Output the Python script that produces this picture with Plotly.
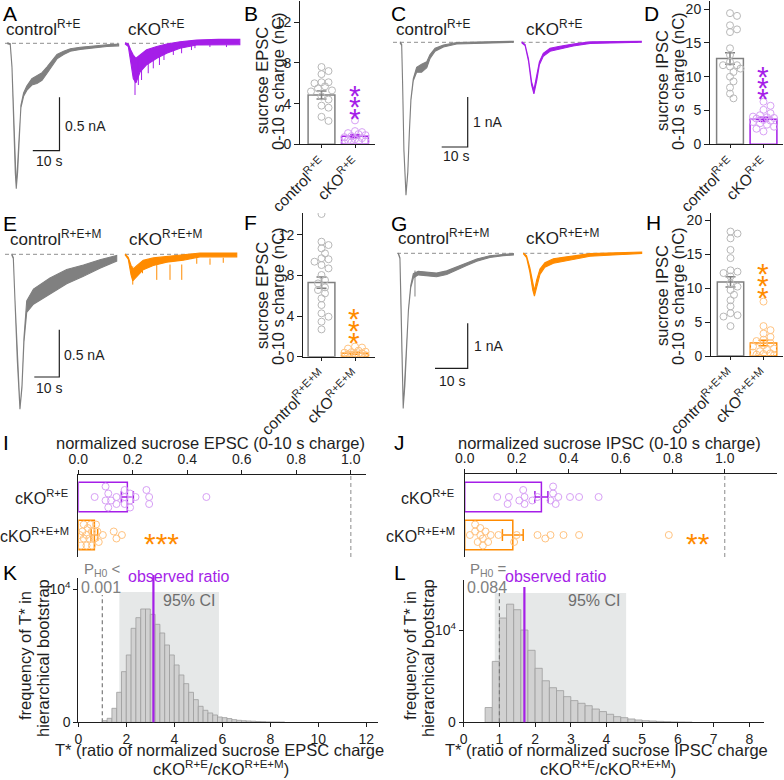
import plotly.graph_objects as go

W, H = 784, 780
FONT = "Liberation Sans, Arial, sans-serif"
INK = "#1e1e1e"
GREY = "#808080"
PURPLE = "#a51ee8"
ORANGE = "#ff8b00"
L_GREY = "#b8b8b8"
L_PURPLE = "#d7a0f5"
L_ORANGE = "#ffc380"
HIST_FILL = "#d1d1d1"
HIST_LINE = "#9d9d9d"
CI_FILL = "#e6e8e8"

# ---------------- example traces: time (s), current (nA), noise half-width (nA) ----------------
A_CTRL_T = [0, 1.1, 1.75, 2.37, 3.0, 3.37, 3.86, 4.5, 5.1, 6.1, 7.3, 9.2, 11.1, 13.0, 14.9, 16.8, 18.6, 21.1, 23.6, 27.3, 32.3, 37.3, 41.7]
A_CTRL_I = [0, -0.007, -0.22, -0.69, -1.21, -1.355, -1.21, -0.84, -0.59, -0.48, -0.42, -0.36, -0.34, -0.31, -0.25, -0.19, -0.125, -0.09, -0.063, -0.047, -0.032, -0.022, -0.016]
A_CTRL_N = [0.004, 0.004, 0.004, 0.004, 0.004, 0.004, 0.004, 0.005, 0.01, 0.015, 0.02, 0.03, 0.035, 0.035, 0.03, 0.025, 0.02, 0.015, 0.012, 0.01, 0.008, 0.008, 0.008]
A_CKO_T = [0, 1.25, 2.1, 3.1, 4.1, 5.6, 8.1, 11.9, 15.6, 20.6, 26.8, 35, 43]
A_CKO_I = [0, -0.019, -0.115, -0.22, -0.255, -0.19, -0.13, -0.085, -0.05, -0.016, 0.007, 0.012, 0.012]
A_CKO_N = [0.004, 0.012, 0.055, 0.11, 0.115, 0.08, 0.07, 0.055, 0.043, 0.031, 0.023, 0.025, 0.025]
A_CKO_SPIKE_T = [3.75, 5.0, 6.2, 8.7, 10.6, 12.9, 14.6, 18.1, 21.2, 24.9, 26.2, 31.8, 38]
A_CKO_SPIKE_I = [-0.483, -0.39, -0.343, -0.28, -0.234, -0.203, -0.156, -0.109, -0.093, -0.063, -0.045, -0.035, -0.035]

C_CTRL_T = [0, 0.65, 1.0, 1.5, 2.3, 3.0, 3.6, 4.2, 5.1, 6.4, 8.3, 10.3, 11.5, 13.5, 16.7, 21.8, 29.5, 43.6]
C_CTRL_I = [0, -0.054, -0.82, -2.15, -3.05, -2.6, -1.8, -1.15, -0.75, -0.55, -0.52, -0.45, -0.29, -0.15, -0.074, -0.02, -0.005, 0.01]
C_CTRL_N = [0.01, 0.01, 0.01, 0.01, 0.01, 0.01, 0.01, 0.01, 0.02, 0.05, 0.08, 0.06, 0.04, 0.03, 0.02, 0.015, 0.01, 0.01]
C_CKO_T = [0, 1.3, 2.6, 3.8, 4.7, 5.8, 6.8, 8.3, 10.9, 14.7, 19.8, 26.3, 46]
C_CKO_I = [0, -0.054, -0.35, -0.82, -0.99, -0.72, -0.42, -0.25, -0.15, -0.11, -0.054, -0.007, 0.012]
C_CKO_N = [0.01, 0.01, 0.02, 0.03, 0.04, 0.04, 0.03, 0.03, 0.03, 0.03, 0.02, 0.015, 0.01]

E_CTRL_T = [0, 0.65, 1.3, 2.25, 3.3, 4.1, 4.9, 6.0, 8.7, 15.3, 22, 28.7, 35.3, 42]
E_CTRL_I = [0, -0.04, -0.48, -1.12, -1.63, -1.40, -0.905, -0.553, -0.447, -0.335, -0.236, -0.173, -0.102, -0.042]
E_CTRL_N = [0.005, 0.005, 0.005, 0.005, 0.005, 0.01, 0.02, 0.06, 0.08, 0.085, 0.075, 0.06, 0.045, 0.03]
E_CKO_T = [0, 1.3, 2.4, 3.1, 4.7, 7.3, 11.3, 16.7, 23.3, 30, 44.7]
E_CKO_I = [0, -0.042, -0.165, -0.22, -0.18, -0.113, -0.078, -0.053, -0.032, -0.007, -0.007]
E_CKO_N = [0.005, 0.01, 0.05, 0.06, 0.06, 0.05, 0.04, 0.03, 0.03, 0.02, 0.02]
E_CKO_SPIKE_T = [3.1, 7.0, 12.7, 18.0, 22.7, 28.7, 34.0, 39.3]
E_CKO_SPIKE_I = [-0.32, -0.2, -0.27, -0.27, -0.27, -0.1, -0.11, -0.09]

G_CTRL_T = [0, 0.5, 0.8, 1.1, 1.5, 2.0, 2.6, 3.1, 3.8, 4.6, 6.1, 8.7, 11.7, 14.8, 17.9, 20.9, 24, 28, 32.1, 35.2]
G_CTRL_I = [0, -0.11, -1.04, -2.15, -3.44, -2.96, -1.93, -1.26, -0.74, -0.5, -0.44, -0.46, -0.48, -0.43, -0.33, -0.24, -0.15, -0.074, -0.037, -0.022]
G_CTRL_N = [0.01, 0.01, 0.01, 0.01, 0.01, 0.01, 0.01, 0.01, 0.02, 0.05, 0.04, 0.04, 0.04, 0.04, 0.035, 0.03, 0.025, 0.02, 0.015, 0.015]
G_CTRL_SPIKE_T = [5.1]
G_CTRL_SPIKE_I = [-0.96]
G_CKO_T = [0, 1.0, 2.0, 2.9, 3.4, 4.1, 5.1, 6.6, 9.2, 12.2, 16.3, 20.4, 36.2]
G_CKO_I = [0, -0.074, -0.37, -0.74, -0.89, -0.67, -0.41, -0.26, -0.17, -0.13, -0.089, -0.037, 0.013]
G_CKO_N = [0.01, 0.02, 0.05, 0.08, 0.06, 0.08, 0.06, 0.05, 0.05, 0.04, 0.035, 0.03, 0.015]

SCALE_T = 10          # s
SCALE_EPSC = 0.5      # nA (A, E)
SCALE_IPSC = 1.0      # nA (C, G)

# ---------------- summary bar graphs (nC) ----------------
CAT_RE = ["control<sup>R+E</sup>", "cKO<sup>R+E</sup>"]
CAT_REM = ["control<sup>R+E+M</sup>", "cKO<sup>R+E+M</sup>"]

B_MEAN = [4.85, 0.8]
B_SEM = [0.4, 0.15]
B_CTRL = [7.6, 7.2, 6.9, 6.1, 6.1, 6.0, 5.7, 5.5, 5.3, 5.2, 4.7, 4.4, 3.8, 3.6, 2.7, 2.3]
B_CKO = [2.35, 1.3, 1.2, 1.1, 1.0, 0.9, 0.8, 0.7, 0.6, 0.5, 0.4, 0.3, 0.25, 0.2, 0.1]

D_MEAN = [12.7, 3.7]
D_SEM = [0.85, 0.3]
D_CTRL = [19.4, 19.0, 17.6, 17.0, 16.6, 14.2, 13.2, 12.2, 11.7, 11.7, 11.5, 11.2, 10.7, 10.0, 9.3, 8.4, 7.5, 6.8]
D_CKO = [6.3, 5.7, 5.1, 4.6, 4.3, 4.1, 4.0, 3.9, 3.8, 3.6, 3.5, 3.3, 3.1, 2.9, 2.6, 2.3, 1.9]

F_MEAN = [7.3, 0.35]
F_SEM = [0.55, 0.1]
F_CTRL = [14.06, 11.33, 11.0, 10.67, 10.18, 9.7, 9.6, 9.36, 9.03, 8.7, 8.05, 7.55, 7.22, 6.83, 6.57, 6.24, 5.75, 5.09, 4.27, 3.94, 3.45, 2.69]
F_CKO = [1.0, 0.9, 0.8, 0.6, 0.5, 0.45, 0.4, 0.35, 0.3, 0.25, 0.2, 0.15, 0.1, 0.08, 0.05, 0.03]

H_MEAN = [10.9, 1.9]
H_SEM = [0.75, 0.4]
H_CTRL = [18.3, 18.0, 17.3, 15.6, 14.4, 12.6, 12.4, 12.2, 11.7, 10.7, 10.2, 9.7, 9.0, 8.2, 7.3, 6.3, 6.0, 5.8, 4.4]
H_CKO = [8.0, 4.4, 3.8, 3.3, 2.8, 2.4, 2.2, 1.9, 1.6, 1.4, 1.1, 0.9, 0.7, 0.5, 0.4, 0.3, 0.2, 0.1]

# ---------------- normalized charge (I, J) ----------------
NORM_CATS = ["cKO<sup>R+E</sup>", "cKO<sup>R+E+M</sup>"]
NORM_TICKS = [0.0, 0.2, 0.4, 0.6, 0.8, 1.0]
I_MEAN = [0.18, 0.059]
I_SEM = [0.022, 0.012]
I_RE = [0.06, 0.10, 0.10, 0.11, 0.11, 0.12, 0.14, 0.14, 0.17, 0.17, 0.17, 0.19, 0.19, 0.19, 0.21, 0.25, 0.26, 0.26, 0.47]
I_REM = [0.005, 0.01, 0.015, 0.02, 0.02, 0.03, 0.03, 0.035, 0.04, 0.045, 0.05, 0.05, 0.06, 0.065, 0.07, 0.075, 0.09, 0.13, 0.14, 0.16]
J_MEAN = [0.295, 0.185]
J_SEM = [0.025, 0.04]
J_RE = [0.125, 0.165, 0.17, 0.21, 0.225, 0.23, 0.23, 0.26, 0.28, 0.33, 0.34, 0.34, 0.35, 0.36, 0.405, 0.44, 0.515]
J_REM = [0.02, 0.04, 0.04, 0.05, 0.06, 0.06, 0.07, 0.07, 0.08, 0.09, 0.10, 0.13, 0.19, 0.20, 0.28, 0.31, 0.33, 0.38, 0.44, 0.785]

# ---------------- hierarchical bootstrap histograms (K, L) ----------------
BIN_W = 0.2
K_START = 1.0
K_COUNTS = [125, 300, 1050, 2250, 3800, 5050, 7050, 7850, 8500, 8500, 8100, 7350, 6700, 5800, 5050, 4300, 3550, 2900,
            2250, 1700, 1200, 900, 700, 550, 400, 350, 280, 200, 150, 120, 100, 80, 60, 50, 30, 20, 20, 10]
K_CI = [1.71, 5.86]
K_OBS = 3.13
K_P = "0.001"
L_START = 0.6
L_COUNTS = [1600, 6600, 11300, 12800, 12200, 10000, 7800, 5850, 4500, 3750, 3430, 2780, 2350, 2060, 1800, 1440, 1160,
            870, 610, 500, 360, 250, 180, 140, 100, 70, 40, 20, 10]
L_CI = [0.87, 4.55]
L_OBS = 1.70
L_P = "0.084"

# =====================================================================
fig = go.Figure()
axes = {}
ann = []
shapes = []


def names(n):
    s = "" if n == 1 else str(n)
    return "xaxis" + s, "yaxis" + s, "x" + s, "y" + s


def set_axes(n, box, xr, yr, xo=None, yo=None):
    l, t, r, b = box
    xa, ya, xref, yref = names(n)
    base = dict(showgrid=False, zeroline=False, fixedrange=True, automargin=False)
    axes[xa] = dict(domain=[l / W, r / W], range=xr, anchor=yref, **base, **(xo or {}))
    axes[ya] = dict(domain=[1 - b / H, 1 - t / H], range=yr, anchor=xref, **base, **(yo or {}))
    return xref, yref


def text(s, x, y, size=16.5, color=INK, xa="center", ya="middle", angle=0):
    ann.append(dict(text=s, x=x / W, y=1 - y / H, xref="paper", yref="paper", xanchor=xa, yanchor=ya,
                    showarrow=False, textangle=angle, font=dict(family=FONT, size=size, color=color)))


def star(x, y, color, size=30, s="*"):
    ann.append(dict(text=s, x=x / W, y=1 - y / H, xref="paper", yref="paper", xanchor="center",
                    yanchor="middle", showarrow=False, yshift=-0.27 * size,
                    font=dict(family=FONT, size=size, color=color)))


# ---------------- trace panels ----------------
def band(xref, yref, t, c, nz, color, shift=0.0):
    xs = [v + shift for v in t] + [v + shift for v in t[::-1]]
    ys = [a + b for a, b in zip(c, nz)] + [a - b for a, b in zip(c[::-1], nz[::-1])]
    fig.add_trace(go.Scatter(x=xs, y=ys, fill="toself", fillcolor=color, mode="lines",
                             line=dict(color=color, width=1.1), xaxis=xref, yaxis=yref, hoverinfo="skip"))


def spikes(xref, yref, t, d, color, shift=0.0):
    xs, ys = [], []
    for a, v in zip(t, d):
        xs += [a + shift, a + shift, None]
        ys += [v * 0.4, v, None]
    fig.add_trace(go.Scatter(x=xs, y=ys, mode="lines", line=dict(color=color, width=1),
                             xaxis=xref, yaxis=yref, hoverinfo="skip"))


def baseline(xref, yref, t0, t1):
    fig.add_trace(go.Scatter(x=[t0, t1], y=[0, 0], mode="lines",
                             line=dict(color="#8f8f8f", width=1, dash="4px,3px"),
                             xaxis=xref, yaxis=yref, hoverinfo="skip"))


def trace_panel(n, box, x0, y0, sx, sy, base_start_px, ctrl, cko, cko_start_px, cko_color,
                corner_px, dI, ctrl_spk=None, cko_spk=None):
    l, t, r, b = box
    xr = [(l - x0) / sx, (r - x0) / sx]
    yr = [-(b - y0) / sy, -(t - y0) / sy]
    xref, yref = set_axes(n, box, xr, yr, dict(visible=False), dict(visible=False))
    shift = (cko_start_px - x0) / sx
    baseline(xref, yref, (base_start_px - x0) / sx, ctrl[0][-1])
    baseline(xref, yref, shift, shift + cko[0][-1])
    band(xref, yref, ctrl[0], ctrl[1], ctrl[2], GREY)
    if ctrl_spk:
        spikes(xref, yref, ctrl_spk[0], ctrl_spk[1], GREY)
    band(xref, yref, cko[0], cko[1], cko[2], cko_color, shift)
    if cko_spk:
        spikes(xref, yref, cko_spk[0], cko_spk[1], cko_color, shift)
    cx, cy = (corner_px[0] - x0) / sx, -(corner_px[1] - y0) / sy
    fig.add_trace(go.Scatter(x=[cx - SCALE_T, cx, cx], y=[cy, cy, cy + dI], mode="lines",
                             line=dict(color=INK, width=1.2), xaxis=xref, yaxis=yref, hoverinfo="skip"))


trace_panel(1, (0, 20, 242, 200), 7.3, 43.3, 2.67, 107, 5,
            (A_CTRL_T, A_CTRL_I, A_CTRL_N), (A_CKO_T, A_CKO_I, A_CKO_N), 125, PURPLE,
            (59.5, 150.7), SCALE_EPSC, None, (A_CKO_SPIKE_T, A_CKO_SPIKE_I))
trace_panel(2, (390, 20, 645, 200), 400, 42.3, 2.6, 50, 393,
            (C_CTRL_T, C_CTRL_I, C_CTRL_N), (C_CKO_T, C_CKO_I, C_CKO_N), 521.7, PURPLE,
            (467.7, 147), SCALE_IPSC)
trace_panel(3, (0, 230, 242, 415), 11.7, 254.3, 2.5, 94.7, 5,
            (E_CTRL_T, E_CTRL_I, E_CTRL_N), (E_CKO_T, E_CKO_I, E_CKO_N), 125, ORANGE,
            (59.3, 377), SCALE_EPSC, None, (E_CKO_SPIKE_T, E_CKO_SPIKE_I))
trace_panel(4, (390, 230, 645, 415), 398.3, 253.3, 3.27, 45, 397,
            (G_CTRL_T, G_CTRL_I, G_CTRL_N), (G_CKO_T, G_CKO_I, G_CKO_N), 523.3, ORANGE,
            (467.7, 368.3), SCALE_IPSC, (G_CTRL_SPIKE_T, G_CTRL_SPIKE_I))

# trace labels and scale labels
text("control<sup>R+E</sup>", 4, 28, 17, xa="left")
text("cKO<sup>R+E</sup>", 126, 28, 17, xa="left")
text("control<sup>R+E</sup>", 394, 28, 17, xa="left")
text("cKO<sup>R+E</sup>", 524, 28, 17, xa="left")
text("control<sup>R+E+M</sup>", 8, 238, 17, xa="left")
text("cKO<sup>R+E+M</sup>", 127, 238, 17, xa="left")
text("control<sup>R+E+M</sup>", 396, 237, 17, xa="left")
text("cKO<sup>R+E+M</sup>", 524, 237, 17, xa="left")
text(f"{SCALE_EPSC} nA", 63, 126, 14, xa="left")
text(f"{SCALE_T} s", 49, 161, 14)
text(f"{SCALE_IPSC:g} nA", 471, 122, 14, xa="left")
text(f"{SCALE_T} s", 456, 156, 14)
text(f"{SCALE_EPSC} nA", 62, 355, 14, xa="left")
text(f"{SCALE_T} s", 49, 388, 14)
text(f"{SCALE_IPSC:g} nA", 472, 346, 14, xa="left")
text(f"{SCALE_T} s", 452, 381, 14)


# ---------------- bar panels ----------------
def swarm(values, ppu, d=7.0, max_off=12.0, min_sep=0.8):
    order = sorted(range(len(values)), key=lambda i: -values[i])
    offs = [0.0] * len(values)
    placed = []
    step = d * 0.5
    cands = [0.0]
    k = 1
    while k * step <= max_off + 1e-9:
        cands += [k * step, -k * step]
        k += 1
    for i in order:
        vp = values[i] * ppu
        best, best_sc = 0.0, -1.0
        for c in cands:
            md = min([((vp - p) ** 2 + (c - o) ** 2) ** 0.5 for p, o in placed] or [1e9])
            if md >= d * min_sep:
                best = c
                break
            if md > best_sc:
                best_sc, best = md, c
        placed.append((vp, best))
        offs[i] = best
    return offs


def bar_panel(n, xl, xrp, yt, yb, c0, csp, ypu, yticks, cats, means, sems, ctrl, cko, color, lcolor):
    xr = [(xl - c0) / csp, (xrp - c0) / csp]
    yr = [0, (yb - yt) / ypu]
    xo = dict(showline=True, linecolor=INK, linewidth=1, tickmode="array", tickvals=[0, 1], ticktext=cats,
              tickangle=-45, ticks="outside", ticklen=3, tickcolor=INK,
              tickfont=dict(family=FONT, size=15.5, color=INK))
    yo = dict(showline=True, linecolor=INK, linewidth=1, tickmode="array", tickvals=yticks,
              ticks="outside", ticklen=5, tickcolor=INK, tickfont=dict(family=FONT, size=14, color=INK))
    xref, yref = set_axes(n, (xl, yt, xrp, yb), xr, yr, xo, yo)
    for k, (col, vals, lc) in enumerate([(GREY, ctrl, L_GREY), (color, cko, lcolor)]):
        fig.add_trace(go.Bar(x=[k], y=[means[k]], width=0.8, marker=dict(color="rgba(255,255,255,0)",
                             line=dict(color=col, width=1.5)),
                             error_y=dict(type="data", array=[sems[k]], color=col, thickness=1.5, width=5),
                             xaxis=xref, yaxis=yref, hoverinfo="skip"))
        offs = swarm(vals, ypu)
        fig.add_trace(go.Scatter(x=[k + o / csp for o in offs], y=vals, mode="markers",
                                 marker=dict(symbol="circle-open", size=7, color=lc, line=dict(width=1)),
                                 xaxis=xref, yaxis=yref, hoverinfo="skip"))


bar_panel(5, 300, 375, 1, 144.3, 321.5, 33.5, 10.17, [0, 4, 8, 12], CAT_RE, B_MEAN, B_SEM, B_CTRL, B_CKO,
          PURPLE, L_PURPLE)
bar_panel(6, 710, 783, 1, 144.3, 730, 33.5, 6.76, [0, 5, 10, 15, 20], CAT_RE, D_MEAN, D_SEM, D_CTRL, D_CKO,
          PURPLE, L_PURPLE)
bar_panel(7, 303, 375, 213, 356.7, 321.5, 33.5, 10.15, [0, 4, 8, 12], CAT_REM, F_MEAN, F_SEM, F_CTRL, F_CKO,
          ORANGE, L_ORANGE)
bar_panel(8, 711, 783, 213, 356, 730.5, 33, 6.8, [0, 5, 10, 15, 20], CAT_REM, H_MEAN, H_SEM, H_CTRL, H_CKO,
          ORANGE, L_ORANGE)

for x, l1, l2, y in [(270, "sucrose EPSC", "0-10 s charge (nC)", 81),
                     (670, "sucrose IPSC", "0-10 s charge (nC)", 81),
                     (270, "sucrose EPSC", "0-10 s charge (nC)", 296),
                     (670, "sucrose IPSC", "0-10 s charge (nC)", 296)]:
    text(l1, x - 8, y, 16.5, angle=-90)
    text(l2, x + 8, y, 16.5, angle=-90)

for y in [87, 98, 110]:
    star(355, y, PURPLE)
for y in [68, 79, 90]:
    star(763, y, PURPLE)
for y in [310, 322, 334]:
    star(354, y, ORANGE)
for y in [265, 277, 289]:
    star(763, y, ORANGE)


# ---------------- normalized horizontal bar panels ----------------
def norm_panel(n, box, xmax, yr, means, sems, re_vals, rem_vals, ppu, title, title_x, lab_x):
    xo = dict(side="top", showline=True, linecolor=INK, linewidth=1, tickmode="array", tickvals=NORM_TICKS,
              ticktext=[f"{v:.1f}" for v in NORM_TICKS], ticks="outside", ticklen=4, tickcolor=INK,
              tickfont=dict(family=FONT, size=14, color=INK))
    yo = dict(showline=True, linecolor=INK, linewidth=1, showticklabels=False, ticks="")
    xref, yref = set_axes(n, box, [0, xmax], yr, xo, yo)
    shapes.append(dict(type="line", xref=xref, yref=yref + " domain", x0=1, x1=1, y0=0, y1=1,
                       line=dict(color="#a6a6a6", width=1.3, dash="4px,3px")))
    for k, (col, lc, vals) in enumerate([(PURPLE, L_PURPLE, re_vals), (ORANGE, L_ORANGE, rem_vals)]):
        fig.add_trace(go.Bar(x=[means[k]], y=[k], orientation="h", width=0.78,
                             marker=dict(color="rgba(255,255,255,0)", line=dict(color=col, width=1.5)),
                             error_x=dict(type="data", array=[sems[k]], color=col, thickness=1.5, width=6),
                             xaxis=xref, yaxis=yref, hoverinfo="skip"))
        offs = swarm(vals, ppu, max_off=12.0)
        fig.add_trace(go.Scatter(x=vals, y=[k + o / 38.0 for o in offs], mode="markers",
                                 marker=dict(symbol="circle-open", size=7, color=lc, line=dict(width=1)),
                                 xaxis=xref, yaxis=yref, hoverinfo="skip"))
    text(title, title_x, 443, 16.5)
    text(NORM_CATS[0], lab_x, 497, 16, xa="right")
    text(NORM_CATS[1], lab_x + 1, 535, 16, xa="right")


norm_panel(9, (78.3, 475, 366, 557), (366 - 78.3) / 272.5, [1.579, -0.579], I_MEAN, I_SEM, I_RE, I_REM, 272.5,
           "normalized sucrose EPSC (0-10 s charge)", 211, 70)
norm_panel(10, (464.7, 474, 777, 557), (777 - 464.7) / 260, [1.579, -0.605], J_MEAN, J_SEM, J_RE, J_REM, 260,
           "normalized sucrose IPSC (0-10 s charge)", 609, 456)
star(161, 535, ORANGE, 30, "***")
star(698, 535, ORANGE, 30, "**")


# ---------------- bootstrap histograms ----------------
def hist_panel(n, box, xmax, ymax, dtick, start, counts, ci, obs, ci_top, p_top, obs_top, pstr, psym,
               p_x, obs_x, ci_x, ytitle_x, xtitle_x, word):
    xo = dict(showline=True, linecolor=INK, linewidth=1, dtick=dtick, tick0=0, ticks="outside", ticklen=4,
              tickcolor=INK, tickfont=dict(family=FONT, size=14, color=INK))
    yo = dict(showline=True, linecolor=INK, linewidth=1, tickmode="array", tickvals=[0, 10000],
              ticktext=["0", "10<sup>4</sup>"], ticks="outside", ticklen=4, tickcolor=INK,
              tickfont=dict(family=FONT, size=14, color=INK))
    xref, yref = set_axes(n, box, [0, xmax], [0, ymax], xo, yo)
    shapes.append(dict(type="rect", xref=xref, yref=yref, x0=ci[0], x1=ci[1], y0=0, y1=ci_top,
                       fillcolor=CI_FILL, line=dict(width=0), layer="below"))
    centers = [start + BIN_W * (i + 0.5) for i in range(len(counts))]
    fig.add_trace(go.Bar(x=centers, y=counts, width=BIN_W,
                         marker=dict(color=HIST_FILL, line=dict(color=HIST_LINE, width=0.8)),
                         xaxis=xref, yaxis=yref, hoverinfo="skip"))
    shapes.append(dict(type="line", xref=xref, yref=yref, x0=1, x1=1, y0=0, y1=p_top,
                       line=dict(color="#7a7a7a", width=1.2, dash="4px,3px")))
    shapes.append(dict(type="line", xref=xref, yref=yref + " domain", x0=obs, x1=obs, y0=0, y1=obs_top,
                       line=dict(color=PURPLE, width=2.2)))
    text(f"P<sub>H0</sub> {psym}", p_x + 1, 569, 15, GREY)
    text(pstr, p_x, 587, 16, GREY)
    text("observed ratio", obs_x, 576, 16, PURPLE)
    text("95% CI", ci_x, 600, 16, "#6e6e6e", xa="right")
    text("frequency of T* in", ytitle_x, 656, 16.5, angle=-90)
    text("hierarchical bootstrap", ytitle_x + 18, 658, 16.5, angle=-90)
    text(f"T* (ratio of normalized sucrose {word} charge", xtitle_x, 750, 16.5)
    text("cKO<sup>R+E</sup>/cKO<sup>R+E+M</sup>)", xtitle_x + 2, 768, 16.5)


hist_panel(11, (78.3, 578, 378, 722.3), (378 - 78.3) / 24, (722.3 - 578) / 133.3 * 1e4, 2, K_START, K_COUNTS,
           K_CI, K_OBS, 9780, 9550, 1.02, K_P, "&lt;", 101, 178, 217, 25, 219, "EPSC")
hist_panel(12, (463.7, 580, 763.7, 722.3), (763.7 - 463.7) / 35.7, (722.3 - 580) / 92.3 * 1e4, 1, L_START,
           L_COUNTS, L_CI, L_OBS, 14000, 14000, 0.95, L_P, "=", 487, 555, 622, 410, 606, "IPSC")

# ---------------- panel letters ----------------
for s, x, y in [("A", 1, 13), ("B", 242, 13), ("C", 389, 13), ("D", 642, 13), ("E", 1, 223), ("F", 242, 222),
                ("G", 389, 223), ("H", 644, 222), ("I", 1, 442), ("J", 392, 442), ("K", 1, 572), ("L", 392, 572)]:
    text(s, x, y, 21, "#000000", xa="left")

fig.update_layout(width=W, height=H, margin=dict(l=0, r=0, t=0, b=0, autoexpand=False), paper_bgcolor="white",
                  plot_bgcolor="rgba(0,0,0,0)", showlegend=False, barmode="overlay",
                  annotations=ann, shapes=shapes, font=dict(family=FONT, color=INK), **axes)
fig.write_html("out.html", config={"displayModeBar": False, "staticPlot": True},
               post_script="document.body.style.margin='0';document.body.style.overflow='hidden';")
